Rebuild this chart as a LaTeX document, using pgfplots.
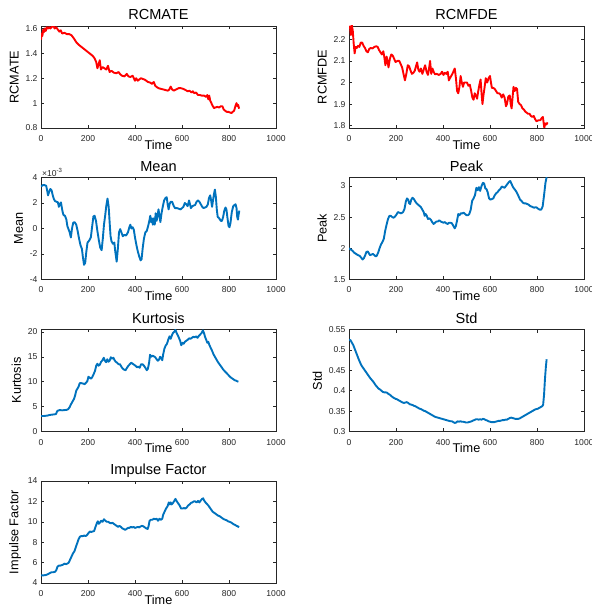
\documentclass[border=0pt]{standalone}
\usepackage{fontspec}
\setmainfont{Liberation Sans}
\usepackage{pgfplots}
\pgfplotsset{compat=1.18}
\definecolor{mblue}{rgb}{0,0.447,0.741}
\definecolor{maxis}{rgb}{0.15,0.15,0.15}

\pgfplotsset{
  mstyle/.style={
    scale only axis, width=235bp, height=102bp, anchor=south west,
    xmin=0, xmax=1000, xtick={0,200,400,600,800,1000},
    axis line style={maxis, line width=0.5pt},
    tick style={maxis, line width=0.5pt},
    major tick length=3bp, tick align=inside,
    ticklabel style={font=\fontsize{8.6}{10}\selectfont, text=maxis},
    xticklabel style={yshift=-4bp},
    xlabel={Time},
    xlabel style={font=\fontsize{12.75}{14}\selectfont, at={(rel axis cs:0.5,0)}, anchor=base, yshift=-21.3bp},
    ylabel style={font=\fontsize{12.75}{14}\selectfont},
    title style={font=\fontsize{14.6}{16}\selectfont, at={(rel axis cs:0.5,1)}, anchor=base, yshift=0.5bp},
    /pgf/number format/assume math mode=true,
    /pgf/number format/1000 sep={},
  },
  redline/.style={red, line width=1.9pt, line join=round, no markers},
  blueline/.style={mblue, line width=1.9pt, line join=round, no markers},
}

\begin{document}
\begin{tikzpicture}
\useasboundingbox (0,0) rectangle (592bp,609bp);

% RCMATE
\begin{axis}[mstyle, at={(41bp,481bp)}, title={RCMATE}, ylabel={RCMATE},
  ymin=0.8, ymax=1.62, ytick={0.8,1,1.2,1.4,1.6}]
\addplot[redline] coordinates {
(0,1.51)(3,1.56)(6,1.54)(9,1.59)(12,1.57)(16,1.6)(20,1.58)(25,1.61)(30,1.6)(35,1.61)(40,1.6)(45,1.61)(52,1.625)(58,1.6)(65,1.61)(72,1.59)(78,1.575)(84,1.585)(90,1.56)(100,1.565)(110,1.555)(120,1.555)(130,1.545)(140,1.52)(150,1.49)(160,1.47)(170,1.455)(180,1.44)(190,1.425)(200,1.41)(210,1.395)(220,1.38)(228,1.36)(235,1.33)(240,1.28)(245,1.31)(250,1.345)(255,1.27)(262,1.29)(270,1.28)(278,1.27)(285,1.3)(292,1.25)(300,1.26)(310,1.245)(320,1.24)(330,1.25)(338,1.23)(345,1.22)(355,1.215)(365,1.235)(372,1.215)(380,1.21)(390,1.22)(400,1.18)(405,1.2)(412,1.18)(418,1.19)(425,1.2)(432,1.195)(440,1.19)(448,1.18)(455,1.17)(465,1.165)(472,1.155)(480,1.17)(486,1.14)(492,1.13)(500,1.12)(510,1.115)(520,1.11)(530,1.105)(540,1.1)(546,1.11)(552,1.133)(558,1.11)(565,1.1)(575,1.11)(585,1.12)(595,1.12)(605,1.115)(615,1.105)(625,1.095)(632,1.1)(640,1.085)(646,1.095)(652,1.08)(660,1.085)(668,1.065)(676,1.065)(685,1.06)(695,1.06)(702,1.05)(708,1.065)(712,1.03)(716,1.06)(720,1.02)(725,1.0)(730,0.98)(736,0.96)(742,0.965)(750,0.97)(758,0.965)(765,0.975)(772,0.975)(777,0.95)(783,0.94)(790,0.93)(797,0.93)(804,0.925)(810,0.92)(816,0.93)(822,0.94)(828,0.98)(832,1.0)(836,0.975)(839,0.985)(843,0.955)
};
\end{axis}

% RCMFDE
\begin{axis}[mstyle, at={(349bp,481bp)}, title={RCMFDE}, ylabel={RCMFDE},
  ymin=1.789, ymax=2.262, ytick={1.8,1.9,2,2.1,2.2}]
\addplot[redline] coordinates {
(0,2.25)(4,2.26)(8,2.22)(12,2.265)(16,2.24)(20,2.18)(24,2.135)(28,2.165)(33,2.16)(38,2.17)(44,2.165)(50,2.185)(56,2.185)(62,2.17)(68,2.16)(74,2.145)(80,2.14)(86,2.155)(92,2.16)(100,2.158)(108,2.165)(116,2.168)(122,2.165)(128,2.15)(134,2.14)(140,2.13)(146,2.145)(150,2.12)(155,2.08)(160,2.12)(164,2.1)(168,2.07)(174,2.11)(180,2.13)(186,2.125)(192,2.11)(198,2.095)(206,2.1)(214,2.1)(220,2.085)(226,2.07)(232,2.04)(238,2.01)(244,2.04)(250,2.08)(256,2.075)(262,2.055)(268,2.04)(274,2.045)(280,2.055)(285,2.075)(290,2.093)(295,2.06)(300,2.05)(306,2.065)(312,2.04)(318,2.06)(324,2.08)(330,2.05)(336,2.035)(340,2.06)(345,2.1)(350,2.04)(355,2.065)(360,2.05)(366,2.038)(374,2.04)(382,2.035)(390,2.04)(396,2.05)(402,2.035)(408,2.045)(414,2.04)(420,2.05)(425,2.01)(432,2.025)(440,2.04)(446,2.055)(450,2.065)(455,2.02)(460,1.96)(465,1.95)(470,1.98)(475,2.03)(480,2.0)(485,1.98)(490,2.0)(496,2.0)(502,2.0)(508,1.985)(514,1.99)(520,1.96)(525,1.93)(530,1.92)(535,1.95)(540,1.94)(545,1.925)(550,1.96)(555,1.99)(560,2.014)(564,1.95)(568,1.9)(572,1.94)(576,1.97)(582,2.02)(588,2.0)(594,2.02)(600,2.03)(604,2.0)(608,1.975)(614,1.975)(620,1.97)(626,1.96)(632,1.95)(638,1.95)(644,1.945)(650,1.93)(656,1.945)(662,1.93)(668,1.89)(672,1.9)(678,1.935)(684,1.94)(688,1.9)(692,1.88)(696,1.93)(700,1.98)(705,1.96)(710,1.975)(715,1.97)(720,1.91)(726,1.9)(732,1.895)(738,1.88)(744,1.875)(750,1.865)(756,1.86)(762,1.855)(768,1.855)(774,1.845)(780,1.84)(786,1.845)(792,1.83)(798,1.82)(806,1.825)(814,1.825)(820,1.835)(825,1.84)(828,1.815)(831,1.79)(835,1.81)(840,1.805)(845,1.815)
};
\end{axis}

% Mean
\begin{axis}[mstyle, at={(41bp,329.5bp)}, title={Mean}, ylabel={Mean},
  ymin=-0.004, ymax=0.004, ytick={-0.004,-0.002,0,0.002,0.004},
  scaled y ticks=base 10:3,
  ytick scale label code/.code={\texttimes10\textsuperscript{#1}},
  every y tick scale label/.style={at={(rel axis cs:0,1)}, anchor=south west, inner sep=1pt, font=\fontsize{8.6}{10}\selectfont, text=maxis}]
\addplot[blueline] coordinates {
(0,3.3e-3)(8,3.4e-3)(16,3.4e-3)(22,3.35e-3)(26,3.0e-3)(30,2.6e-3)(35,2.9e-3)(40,3.1e-3)(45,3.0e-3)(50,2.6e-3)(55,2.3e-3)(60,2.15e-3)(66,2.1e-3)(72,2.05e-3)(76,1.7e-3)(80,1.9e-3)(85,2.05e-3)(88,1.7e-3)(92,1.3e-3)(96,1.05e-3)(102,1.0e-3)(108,0.7e-3)(112,0.2e-3)(118,-0.1e-3)(122,-0.3e-3)(127,-0.7e-3)(132,0.0)(137,0.45e-3)(143,0.5e-3)(150,0.3e-3)(156,-0.2e-3)(162,-0.8e-3)(168,-1.3e-3)(174,-1.6e-3)(178,-2.2e-3)(183,-2.85e-3)(188,-2.7e-3)(193,-1.8e-3)(198,-1.1e-3)(205,-0.95e-3)(212,-0.7e-3)(218,0.2e-3)(223,0.95e-3)(228,1.0e-3)(234,0.6e-3)(240,-0.2e-3)(246,-0.9e-3)(252,-1.5e-3)(258,-1.7e-3)(263,-0.8e-3)(268,0.3e-3)(273,1.0e-3)(278,1.8e-3)(283,2.35e-3)(288,1.7e-3)(292,0.5e-3)(296,-0.6e-3)(300,-1.0e-3)(306,-1.2e-3)(312,-1.1e-3)(316,-1.8e-3)(322,-2.6e-3)(327,-1.6e-3)(332,-0.3e-3)(337,-0.05e-3)(342,-0.3e-3)(348,-0.6e-3)(355,-0.5e-3)(362,-0.55e-3)(370,-0.3e-3)(376,0.1e-3)(380,0.3e-3)(385,0.0)(390,0.1e-3)(395,-0.1e-3)(400,-0.7e-3)(406,-1.3e-3)(412,-1.8e-3)(418,-2.2e-3)(424,-2.5e-3)(428,-2.4e-3)(433,-1.5e-3)(438,-0.8e-3)(444,-0.3e-3)(450,-0.2e-3)(456,0.2e-3)(461,0.6e-3)(465,1.0e-3)(468,0.5e-3)(472,0.8e-3)(476,0.3e-3)(480,0.8e-3)(484,0.3e-3)(488,1.2e-3)(492,0.6e-3)(496,1.0e-3)(500,1.5e-3)(504,1.0e-3)(508,0.5e-3)(513,1.2e-3)(518,1.7e-3)(524,2.2e-3)(530,2.4e-3)(535,2.45e-3)(539,1.9e-3)(543,1.5e-3)(547,1.9e-3)(552,2.1e-3)(558,2.1e-3)(564,1.8e-3)(570,1.6e-3)(578,1.6e-3)(586,1.55e-3)(594,1.5e-3)(600,1.6e-3)(606,1.7e-3)(612,2.0e-3)(618,1.9e-3)(624,1.75e-3)(630,2.2e-3)(634,1.9e-3)(638,1.6e-3)(644,1.75e-3)(650,1.8e-3)(656,1.85e-3)(662,2.1e-3)(668,2.2e-3)(674,2.1e-3)(680,1.9e-3)(686,1.7e-3)(692,1.6e-3)(698,1.65e-3)(704,1.7e-3)(710,1.9e-3)(715,2.4e-3)(720,2.6e-3)(724,2.2e-3)(728,1.7e-3)(732,2.2e-3)(736,2.7e-3)(740,3.05e-3)(744,2.5e-3)(748,1.5e-3)(752,0.9e-3)(756,0.85e-3)(760,0.75e-3)(765,0.6e-3)(770,0.6e-3)(775,0.9e-3)(780,1.4e-3)(785,1.65e-3)(789,1.5e-3)(793,0.9e-3)(798,0.2e-3)(802,0.1e-3)(806,0.4e-3)(812,1.3e-3)(818,1.75e-3)(824,1.85e-3)(828,1.9e-3)(832,1.6e-3)(835,0.9e-3)(838,0.7e-3)(841,1.1e-3)(844,1.4e-3)
};
\end{axis}

% Peak
\begin{axis}[mstyle, at={(349bp,329.5bp)}, title={Peak}, ylabel={Peak},
  ymin=1.5, ymax=3.135, ytick={1.5,2,2.5,3}]
\addplot[blueline] coordinates {
(0,2.0)(8,1.98)(15,1.96)(22,1.93)(30,1.91)(38,1.89)(45,1.88)(52,1.85)(58,1.82)(63,1.84)(68,1.88)(74,1.94)(80,1.95)(86,1.91)(90,1.89)(96,1.9)(102,1.91)(108,1.89)(114,1.87)(118,1.88)(124,1.93)(130,2.0)(136,2.06)(142,2.1)(148,2.15)(154,2.28)(160,2.38)(166,2.47)(172,2.52)(178,2.52)(184,2.5)(190,2.49)(196,2.51)(202,2.54)(208,2.58)(215,2.57)(222,2.56)(230,2.58)(236,2.63)(242,2.75)(247,2.8)(252,2.78)(256,2.72)(260,2.71)(265,2.78)(270,2.81)(276,2.79)(282,2.75)(288,2.72)(294,2.7)(300,2.68)(306,2.66)(312,2.62)(318,2.58)(322,2.52)(326,2.55)(330,2.53)(336,2.47)(342,2.48)(348,2.46)(354,2.42)(360,2.39)(366,2.41)(372,2.43)(378,2.43)(384,2.45)(390,2.43)(396,2.42)(402,2.41)(408,2.42)(414,2.4)(420,2.39)(426,2.41)(432,2.41)(438,2.4)(444,2.36)(450,2.32)(455,2.36)(460,2.45)(465,2.55)(470,2.53)(476,2.56)(482,2.56)(488,2.57)(494,2.55)(500,2.53)(506,2.53)(512,2.55)(518,2.62)(524,2.76)(530,2.8)(536,2.85)(542,2.97)(548,2.93)(553,2.98)(558,2.92)(564,3.0)(570,3.05)(575,3.04)(580,2.96)(585,2.95)(590,2.9)(596,2.8)(602,2.78)(608,2.79)(614,2.8)(620,2.85)(626,2.88)(632,2.9)(638,2.93)(644,2.95)(650,2.99)(656,2.98)(662,2.97)(668,3.0)(674,3.03)(680,3.06)(686,3.08)(692,3.03)(698,2.98)(704,2.95)(710,2.92)(716,2.88)(722,2.83)(728,2.78)(734,2.76)(740,2.73)(746,2.72)(752,2.72)(758,2.71)(764,2.7)(770,2.68)(776,2.67)(782,2.66)(788,2.65)(794,2.66)(800,2.65)(806,2.63)(812,2.62)(818,2.62)(824,2.67)(830,2.85)(836,3.05)(841,3.14)
};
\end{axis}

% Kurtosis
\begin{axis}[mstyle, at={(41bp,177.5bp)}, title={Kurtosis}, ylabel={Kurtosis},
  ymin=0, ymax=20.47, ytick={0,5,10,15,20}]
\addplot[blueline] coordinates {
(0,3.1)(10,3.1)(20,3.15)(28,3.2)(35,3.3)(42,3.35)(50,3.4)(58,3.45)(64,3.5)(68,4.0)(72,4.2)(80,4.3)(90,4.25)(100,4.3)(110,4.35)(116,4.5)(122,4.9)(128,5.5)(134,6.0)(140,6.5)(145,7.2)(150,8.2)(155,8.6)(160,9.0)(165,9.7)(172,9.7)(180,9.6)(186,9.5)(192,9.8)(197,10.1)(202,11.0)(207,10.8)(212,10.6)(218,10.9)(224,11.5)(230,12.2)(235,13.2)(240,13.6)(245,13.2)(250,13.4)(256,14.0)(262,14.3)(267,14.8)(272,14.2)(277,13.9)(282,14.5)(287,14.0)(292,14.2)(297,14.9)(303,14.6)(308,14.8)(313,14.3)(318,14.0)(324,13.8)(330,13.5)(336,13.5)(342,13.0)(348,12.6)(354,12.4)(360,12.3)(366,12.8)(372,13.2)(378,13.5)(384,13.8)(390,13.6)(396,13.4)(402,13.2)(408,12.9)(414,13.0)(420,12.8)(426,13.5)(432,13.5)(438,13.2)(444,12.8)(450,12.3)(455,12.6)(460,13.8)(464,15.4)(469,15.0)(474,15.2)(480,15.1)(486,14.9)(492,14.5)(497,14.2)(502,14.4)(507,15.0)(512,14.7)(516,14.3)(520,15.5)(525,16.6)(530,17.2)(536,17.6)(542,18.5)(547,19.1)(552,18.6)(557,19.3)(562,19.8)(567,20.0)(572,20.4)(577,19.8)(582,19.3)(587,18.8)(592,18.2)(597,17.3)(602,17.8)(607,17.6)(612,18.0)(618,18.2)(624,18.4)(630,18.7)(636,18.6)(642,18.8)(648,19.0)(654,18.9)(660,19.1)(666,18.8)(672,19.2)(678,19.5)(684,19.8)(689,20.3)(694,19.7)(698,19.0)(703,18.4)(708,17.8)(712,18.0)(716,17.4)(722,16.8)(728,16.2)(734,15.5)(740,15.0)(746,14.5)(752,14.0)(758,13.6)(764,13.2)(770,12.8)(776,12.4)(782,12.1)(788,11.8)(794,11.5)(800,11.2)(806,10.9)(812,10.7)(818,10.5)(824,10.3)(830,10.2)(836,10.05)(840,10.0)
};
\end{axis}

% Std
\begin{axis}[mstyle, at={(349bp,177.5bp)}, title={Std}, ylabel={Std},
  ymin=0.3, ymax=0.55, ytick={0.3,0.35,0.4,0.45,0.5,0.55}]
\addplot[blueline] coordinates {
(0,0.525)(6,0.524)(12,0.518)(18,0.512)(24,0.503)(30,0.494)(36,0.485)(42,0.476)(48,0.468)(54,0.461)(60,0.456)(66,0.451)(72,0.446)(78,0.441)(84,0.436)(90,0.431)(96,0.427)(102,0.423)(108,0.418)(114,0.413)(120,0.409)(126,0.405)(132,0.403)(138,0.4)(144,0.397)(150,0.396)(156,0.396)(162,0.395)(168,0.392)(174,0.39)(180,0.387)(186,0.384)(192,0.382)(198,0.38)(204,0.379)(210,0.377)(216,0.375)(222,0.373)(228,0.371)(234,0.37)(240,0.371)(246,0.372)(252,0.37)(258,0.367)(264,0.366)(270,0.365)(276,0.363)(282,0.362)(288,0.36)(294,0.358)(300,0.356)(306,0.355)(312,0.353)(318,0.351)(324,0.35)(330,0.348)(336,0.346)(342,0.344)(348,0.342)(354,0.34)(360,0.338)(366,0.336)(372,0.335)(378,0.334)(384,0.333)(390,0.332)(396,0.331)(402,0.33)(408,0.329)(414,0.328)(420,0.327)(426,0.326)(432,0.325)(438,0.325)(444,0.323)(450,0.321)(456,0.322)(462,0.325)(468,0.324)(474,0.325)(480,0.324)(486,0.324)(492,0.323)(498,0.322)(504,0.322)(510,0.323)(516,0.324)(522,0.325)(528,0.327)(534,0.328)(540,0.33)(546,0.33)(552,0.329)(558,0.33)(564,0.329)(570,0.331)(576,0.33)(582,0.328)(588,0.327)(594,0.325)(600,0.324)(606,0.323)(612,0.323)(618,0.323)(624,0.324)(630,0.325)(636,0.326)(642,0.326)(648,0.327)(654,0.328)(660,0.328)(666,0.329)(672,0.329)(678,0.331)(684,0.333)(690,0.334)(696,0.333)(702,0.332)(708,0.331)(714,0.331)(720,0.331)(726,0.332)(732,0.334)(738,0.336)(744,0.338)(750,0.34)(756,0.342)(762,0.344)(768,0.346)(774,0.348)(780,0.35)(786,0.352)(792,0.354)(798,0.355)(804,0.356)(810,0.358)(816,0.36)(822,0.362)(826,0.365)(830,0.39)(834,0.43)(838,0.46)(841,0.477)
};
\end{axis}

% Impulse Factor
\begin{axis}[mstyle, at={(41bp,26bp)}, title={Impulse Factor}, ylabel={Impulse Factor},
  ymin=4, ymax=14, ytick={4,6,8,10,12,14}]
\addplot[blueline] coordinates {
(0,4.75)(10,4.75)(20,4.78)(28,4.85)(36,4.95)(44,5.05)(52,5.05)(60,5.1)(66,5.3)(70,5.6)(76,5.7)(82,5.7)(88,5.75)(94,5.8)(100,5.9)(106,5.85)(112,5.9)(118,6.0)(124,6.3)(130,6.6)(136,6.9)(142,7.1)(148,7.5)(154,7.9)(160,8.3)(166,8.55)(172,8.6)(178,8.6)(184,8.65)(190,8.6)(196,8.7)(202,8.9)(208,9.05)(214,9.0)(220,9.05)(226,9.1)(232,9.5)(238,9.9)(242,10.05)(246,9.8)(250,9.9)(256,10.1)(262,10.0)(268,10.25)(274,10.1)(280,10.0)(286,10.0)(292,9.9)(298,9.85)(304,9.9)(310,9.8)(316,9.7)(322,9.6)(328,9.5)(334,9.6)(340,9.5)(346,9.35)(352,9.3)(358,9.2)(364,9.3)(370,9.4)(376,9.4)(382,9.5)(388,9.45)(394,9.5)(400,9.4)(406,9.45)(412,9.5)(418,9.45)(424,9.55)(430,9.6)(436,9.55)(442,9.45)(448,9.35)(454,9.3)(458,9.6)(462,10.1)(468,10.2)(474,10.2)(480,10.3)(486,10.25)(492,10.3)(498,10.1)(504,10.3)(510,10.2)(516,10.3)(520,10.7)(526,11.0)(532,11.3)(538,11.5)(544,11.9)(548,11.7)(552,11.9)(556,11.7)(560,11.8)(566,12.0)(572,12.25)(578,12.0)(584,11.8)(590,11.6)(596,11.3)(602,11.3)(608,11.35)(614,11.3)(620,11.4)(626,11.6)(632,11.7)(638,11.85)(644,11.9)(650,12.0)(656,12.0)(662,11.9)(668,12.05)(674,11.9)(680,12.1)(686,12.25)(690,12.3)(694,12.1)(700,11.9)(706,11.75)(712,11.6)(718,11.4)(724,11.2)(730,11.0)(736,10.9)(742,10.8)(748,10.7)(754,10.6)(760,10.55)(766,10.45)(772,10.35)(778,10.25)(784,10.2)(790,10.15)(796,10.05)(802,10.0)(808,9.95)(814,9.85)(820,9.75)(826,9.7)(832,9.6)(838,9.55)(842,9.45)
};
\end{axis}
\end{tikzpicture}
\end{document}
